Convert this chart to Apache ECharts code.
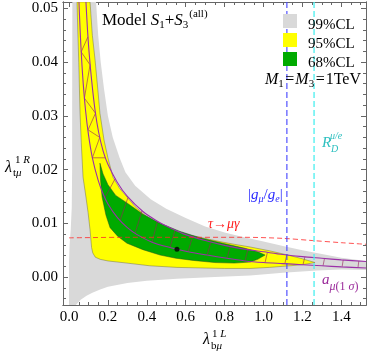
<!DOCTYPE html>
<html>
<head>
<meta charset="utf-8">
<script src="https://cdn.jsdelivr.net/npm/echarts@6/dist/echarts.min.js"></script>
<style>
html, body { margin: 0; padding: 0; background: #fff; }
#chart { width: 367px; height: 354px; }
</style>
</head>
<body>
<div id="chart"></div>
<script>
// axis ranges and ticks
var xRange = [-0.031, 1.527]
var yRange = [-0.0052, 0.0512]
var xMajor = [0, 0.2, 0.4, 0.6, 0.8, 1.0, 1.2, 1.4]
var xMinor = [0.05, 0.1, 0.15, 0.25, 0.3, 0.35, 0.45, 0.5, 0.55, 0.65, 0.7, 0.75, 0.85, 0.9, 0.95, 1.05, 1.1, 1.15, 1.25, 1.3, 1.35, 1.45, 1.5]
var yMajor = [0, 0.01, 0.02, 0.03, 0.04, 0.05]
var yMinor = [-0.004, -0.002, 0.002, 0.004, 0.006, 0.008, 0.012, 0.014, 0.016, 0.018, 0.022, 0.024, 0.026, 0.028, 0.032, 0.034, 0.036, 0.038, 0.042, 0.044, 0.046, 0.048]

// allowed regions (x = lambda_bmu, y = lambda_tmu)
var cl99 = [
  [0.0, -0.0052], [0.0, 0.003], [0.003, 0.006], [0.009, 0.009], [0.014, 0.013], [0.016, 0.02], [0.016, 0.03], [0.017, 0.0512],
  [0.139, 0.0512], [0.15, 0.045], [0.163, 0.040], [0.18, 0.035], [0.2, 0.030], [0.225, 0.026], [0.26, 0.0222], [0.29, 0.0195],
  [0.34, 0.0170], [0.42, 0.0145], [0.5, 0.0127], [0.6, 0.0110], [0.7, 0.0094], [0.8, 0.0083], [0.9, 0.0074], [1.0, 0.0066],
  [1.1, 0.0058], [1.2, 0.0050], [1.3, 0.0043], [1.4, 0.0036], [1.527, 0.0030],
  [1.527, 0.0013], [1.4, 0.0014], [1.275, 0.0012], [1.1, 0.0008], [0.931, 0.0003], [0.75, 0.0], [0.555, -0.0003], [0.4, -0.0007],
  [0.3, -0.0011], [0.2, -0.0018], [0.16, -0.0023], [0.12, -0.0029], [0.09, -0.0035], [0.06, -0.0042], [0.035, -0.0052]
]
var cl95 = [
  [0.041, 0.0512], [0.108, 0.0512], [0.12, 0.045], [0.134, 0.0404], [0.148, 0.035], [0.159, 0.0305], [0.18, 0.0255], [0.2, 0.0222],
  [0.226, 0.0186], [0.26, 0.0165], [0.298, 0.0149], [0.34, 0.0131], [0.391, 0.0115], [0.468, 0.0097], [0.55, 0.0086], [0.622, 0.0078],
  [0.7, 0.0072], [0.776, 0.0066], [0.85, 0.0061], [0.931, 0.0056], [1.03, 0.0049], [1.136, 0.0040], [1.2, 0.0034], [1.265, 0.0027],
  [1.2, 0.0023], [1.136, 0.0021], [1.03, 0.0018], [0.931, 0.0016], [0.8, 0.0016], [0.674, 0.0017], [0.555, 0.0018], [0.416, 0.0021],
  [0.298, 0.0026], [0.2, 0.003], [0.16, 0.0033], [0.135, 0.0037], [0.122, 0.0045], [0.116, 0.0055], [0.108, 0.0088], [0.098, 0.012],
  [0.087, 0.0149], [0.072, 0.0186], [0.063, 0.025], [0.0566, 0.0305], [0.05, 0.04], [0.045, 0.046]
]
var cl68 = [
  [0.159, 0.0212], [0.175, 0.0192], [0.2, 0.0172], [0.24, 0.0152], [0.298, 0.0138], [0.38, 0.0117], [0.468, 0.0100], [0.571, 0.0085],
  [0.674, 0.0073], [0.802, 0.0062], [0.9, 0.0054], [0.97, 0.0047], [1.008, 0.0041],
  [0.97, 0.0033], [0.931, 0.0028], [0.85, 0.0026], [0.75, 0.0027], [0.638, 0.0031], [0.55, 0.0035], [0.468, 0.0041], [0.38, 0.0051],
  [0.298, 0.0063], [0.25, 0.0076], [0.211, 0.0092], [0.19, 0.0115], [0.17, 0.0149], [0.162, 0.018]
]

// a_mu 1 sigma band edges
var amuUpper = [
  [0.087, 0.0512], [0.095, 0.046], [0.105, 0.041], [0.118, 0.036], [0.134, 0.031], [0.152, 0.027], [0.175, 0.0235], [0.2, 0.021],
  [0.247, 0.0177], [0.3, 0.0150], [0.38, 0.0122], [0.45, 0.0105], [0.519, 0.0092], [0.6, 0.0079], [0.7, 0.0068], [0.8, 0.0059],
  [0.9, 0.0052], [1.0, 0.0047], [1.1, 0.0042], [1.2, 0.0038], [1.3, 0.0035], [1.4, 0.0032], [1.527, 0.0029]
]
var amuLower = [
  [0.051, 0.0512], [0.057, 0.046], [0.064, 0.041], [0.073, 0.036], [0.085, 0.031], [0.1, 0.0265], [0.12, 0.0222], [0.15, 0.018],
  [0.175, 0.0155], [0.2, 0.0136], [0.25, 0.011], [0.3, 0.0092], [0.35, 0.0079], [0.427, 0.0065], [0.519, 0.0055], [0.612, 0.0047],
  [0.71, 0.0041], [0.812, 0.0035], [0.905, 0.0030], [1.0, 0.0027], [1.1, 0.0025], [1.2, 0.0023], [1.3, 0.0021], [1.4, 0.0019], [1.527, 0.0017]
]
// mesh lines inside the a_mu band: [x1, y1, x2, y2]
var amuMesh = [
  [0.0625, 0.0419, 0.097, 0.0447], [0.0625, 0.0419, 0.108, 0.0395], [0.079, 0.0333, 0.108, 0.0395], [0.079, 0.0333, 0.136, 0.0305],
  [0.098, 0.0274, 0.136, 0.0305], [0.098, 0.0274, 0.158, 0.026], [0.12, 0.0222, 0.158, 0.026], [0.12, 0.0222, 0.188, 0.0222],
  [0.185, 0.0148, 0.237, 0.0183], [0.262, 0.0105, 0.303, 0.0148], [0.339, 0.0081, 0.375, 0.0123], [0.427, 0.0065, 0.455, 0.0104],
  [0.519, 0.0055, 0.545, 0.0087], [0.612, 0.0047, 0.635, 0.0075], [0.71, 0.0041, 0.73, 0.0066], [0.812, 0.0035, 0.83, 0.0058],
  [0.905, 0.0030, 0.92, 0.0052], [1.008, 0.0027, 1.02, 0.0046], [1.11, 0.0025, 1.12, 0.0042], [1.203, 0.0023, 1.213, 0.0038],
  [1.306, 0.0021, 1.314, 0.0035], [1.404, 0.0019, 1.41, 0.0032], [1.486, 0.0018, 1.49, 0.0030]
]
var tauMuGamma = [[0.0, 0.0073], [0.3, 0.0074], [0.6, 0.0074], [0.9, 0.0074], [1.1, 0.0072], [1.25, 0.0068], [1.4, 0.0064], [1.527, 0.0061]]
var gMuGe = 1.12
var rDmuE = 1.26
var bestFit = [[0.555, 0.0052]]

var FONT = '"Liberation Serif", "Times New Roman", serif'
var meas = document.createElement('canvas').getContext('2d')

// lays text pieces side by side: [text, size, dy, italic, gapAfter]
function textRun (x, y, parts, color) {
  var els = []
  var cx = x
  parts.forEach(function (p) {
    var font = (p[3] ? 'italic ' : '') + p[1] + 'px ' + FONT
    meas.font = font
    els.push({
      type: 'text', x: cx, y: y + p[2], silent: true, z: 100,
      style: { text: p[0], font: font, fill: color, align: 'left', verticalAlign: 'middle', textAlign: 'left', textVerticalAlign: 'middle' }
    })
    cx += meas.measureText(p[0]).width + (p[4] || 0)
  })
  return els
}

function regionSeries (pts, fill, stroke, z) {
  return {
    type: 'custom', clip: true, silent: true, z: z,
    data: [[0, 0]],
    renderItem: function (params, api) {
      return {
        type: 'polygon',
        shape: { points: pts.map(function (p) { return api.coord(p) }) },
        style: { fill: fill, stroke: stroke, lineWidth: 0.8 }
      }
    }
  }
}

function lineSeries (data, color, width, dash, z, smooth) {
  return {
    type: 'line', data: data, showSymbol: false, smooth: smooth || false, clip: true, silent: true, z: z,
    lineStyle: { color: color, width: width, type: dash || 'solid' }
  }
}

function xAxisDef (pos, ticks, len, label) {
  return {
    type: 'value', position: pos, min: xRange[0], max: xRange[1],
    axisLine: { show: true, onZero: false, lineStyle: { color: '#666', width: 1 } },
    axisTick: { show: true, inside: true, length: len, customValues: ticks, lineStyle: { color: '#666' } },
    axisLabel: { show: label, customValues: ticks, margin: 5, color: '#000', fontFamily: FONT, fontSize: 15,
      formatter: function (v) { return v.toFixed(1) } },
    splitLine: { show: false }
  }
}
function yAxisDef (pos, ticks, len, label) {
  return {
    type: 'value', position: pos, min: yRange[0], max: yRange[1],
    axisLine: { show: true, onZero: false, lineStyle: { color: '#666', width: 1 } },
    axisTick: { show: true, inside: true, length: len, customValues: ticks, lineStyle: { color: '#666' } },
    axisLabel: { show: label, customValues: ticks, margin: 5, color: '#000', fontFamily: FONT, fontSize: 15,
      formatter: function (v) { return v.toFixed(2) } },
    splitLine: { show: false }
  }
}

var graphics = [
  { type: 'rect', shape: { x: 283, y: 14, width: 14, height: 14 }, style: { fill: '#d9d9d9' }, z: 100 },
  { type: 'rect', shape: { x: 283, y: 33, width: 14, height: 14 }, style: { fill: '#ffff00' }, z: 100 },
  { type: 'rect', shape: { x: 283, y: 52, width: 14, height: 14 }, style: { fill: '#00aa00' }, z: 100 }
]
graphics = graphics
  .concat(textRun(308, 25, [['99%CL', 15, 0]], '#000'))
  .concat(textRun(308, 44, [['95%CL', 15, 0]], '#000'))
  .concat(textRun(308, 63, [['68%CL', 15, 0]], '#000'))
  .concat(textRun(102, 21, [['Model ', 17, 0], ['S', 17, 0, true], ['1', 11, 4], ['+', 17, 0], ['S', 17, 0, true], ['3', 11, 4, false, 1], ['(all)', 11, -7]], '#000'))
  .concat(textRun(265, 80, [['M', 16, 0, true], ['1', 11, 4, false, 1.5], ['=', 16, 0, false, 1], ['M', 16, 0, true], ['3', 11, 4, false, 1.5], ['=', 16, 0, false, 1], ['1TeV', 16, 0]], '#000'))
  .concat(textRun(248, 195, [['|', 15, 0], ['g', 15, 0, true], ['\u03bc', 10, 4, true], ['/', 15, 0], ['g', 15, 0, true], ['e', 10, 4, true], ['|', 15, 0]], '#2a2aff'))
  .concat(textRun(322, 143, [['R', 15, 0, true]], '#2fc0c0'))
  .concat(textRun(331, 149, [['D', 10, 0, true]], '#2fc0c0'))
  .concat(textRun(330, 136, [['\u03bc/e', 10, 0, true]], '#2fc0c0'))
  .concat(textRun(208, 224, [['\u03c4', 14, 0, true], ['\u2192', 14, 0], ['\u03bc\u03b3', 14, 0, true]], '#ff2020'))
  .concat(textRun(322, 280, [['a', 15, 0, true], ['\u03bc', 12, 7, true], ['(1 ', 12, 7], ['\u03c3', 12, 7, true], [')', 12, 7]], '#9a2a9a'))
  .concat(textRun(5, 168, [['\u03bb', 16, 0, true]], '#000'))
  .concat(textRun(15, 160, [['1 ', 11, 0], ['R', 11, 0, true]], '#000'))
  .concat(textRun(13, 173, [['t', 11, 0], ['\u03bc', 11, 0, true]], '#000'))
  .concat(textRun(203, 340, [['\u03bb', 16, 0, true]], '#000'))
  .concat(textRun(212, 334, [['1 ', 11, 0], ['L', 11, 0, true]], '#000'))
  .concat(textRun(211, 346, [['b', 11, 0], ['\u03bc', 11, 0, true]], '#000'))

var chart = echarts.init(document.getElementById('chart'))
chart.setOption({
  animation: false,
  backgroundColor: '#fff',
  grid: { left: 63, right: 1, top: 2, bottom: 49, containLabel: false },
  xAxis: [
    xAxisDef('bottom', xMajor, 5, true),
    xAxisDef('bottom', xMinor, 3, false),
    xAxisDef('top', xMajor, 5, false),
    xAxisDef('top', xMinor, 3, false)
  ],
  yAxis: [
    yAxisDef('left', yMajor, 5, true),
    yAxisDef('left', yMinor, 3, false),
    yAxisDef('right', yMajor, 5, false),
    yAxisDef('right', yMinor, 3, false)
  ],
  series: [
    regionSeries(cl99, '#d9d9d9', 'rgba(0,0,0,0)', 1),
    regionSeries(cl95, '#ffff00', 'rgba(110,110,70,0.6)', 2),
    regionSeries(cl68, '#00aa00', 'rgba(40,70,40,0.6)', 3),
    {
      type: 'custom', clip: true, silent: true, z: 4,
      data: amuMesh,
      encode: { x: 0, y: 1 },
      renderItem: function (params, api) {
        var a = api.coord([api.value(0), api.value(1)])
        var b = api.coord([api.value(2), api.value(3)])
        return { type: 'line', shape: { x1: a[0], y1: a[1], x2: b[0], y2: b[1] }, style: { stroke: 'rgba(150,30,90,0.75)', lineWidth: 0.8 } }
      }
    },
    lineSeries(amuUpper, '#9b30a8', 1.1, 'solid', 5, 0.3),
    lineSeries(amuLower, '#9b30a8', 1.1, 'solid', 5, 0.3),
    lineSeries(tauMuGamma, 'rgba(255,40,40,0.8)', 1, [5, 3], 6, 0.3),
    lineSeries([[gMuGe, yRange[0]], [gMuGe, yRange[1]]], 'rgba(70,70,255,0.75)', 1.5, [6, 3], 6),
    lineSeries([[rDmuE, yRange[0]], [rDmuE, yRange[1]]], 'rgba(80,240,240,0.9)', 1.5, [6, 3], 6),
    { type: 'scatter', data: bestFit, symbolSize: 5, itemStyle: { color: '#000' }, silent: true, z: 7 }
  ],
  graphic: { elements: graphics }
})
</script>
</body>
</html>
